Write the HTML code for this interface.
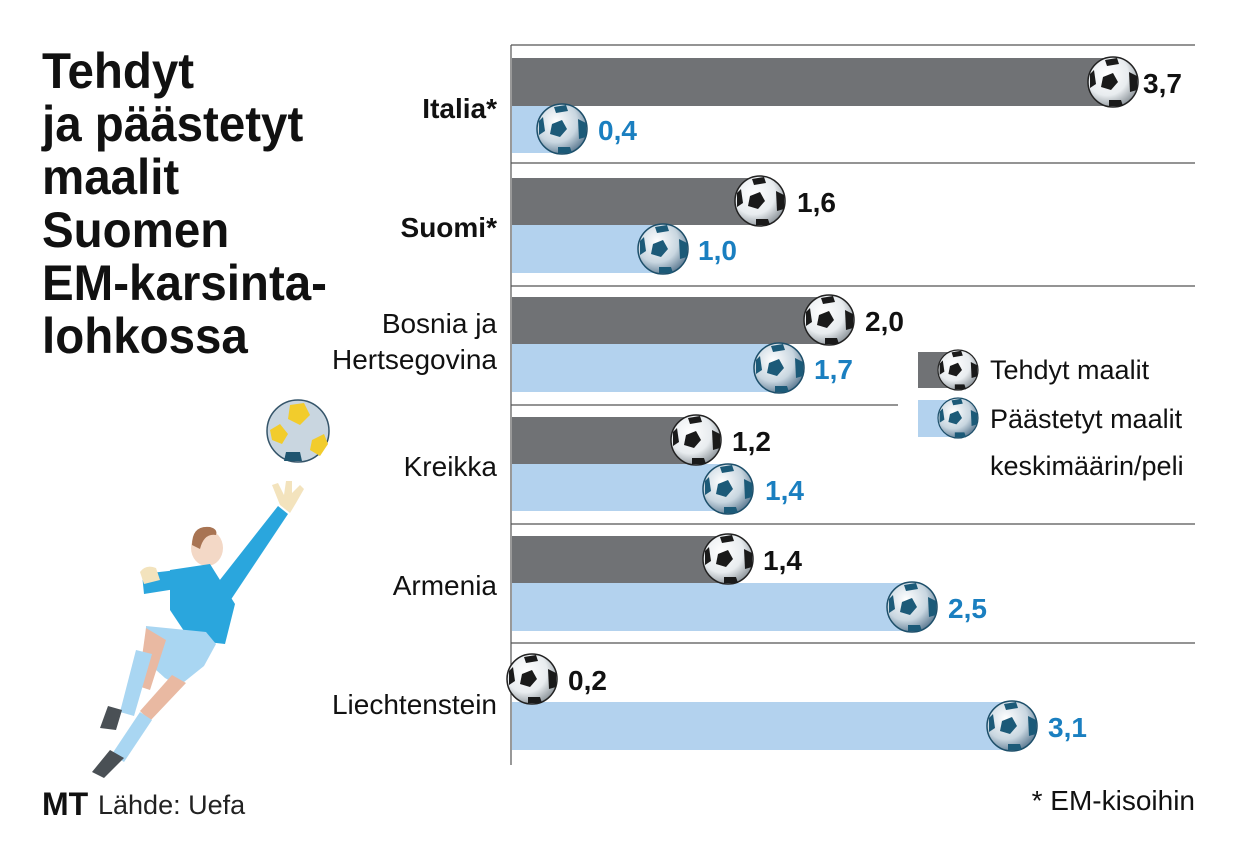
<!DOCTYPE html>
<html><head><meta charset="utf-8"><style>
html,body{margin:0;padding:0;background:#fff}
svg{display:block}
text{font-family:"Liberation Sans",sans-serif}
</style></head><body>
<svg width="1240" height="854" viewBox="0 0 1240 854" xmlns="http://www.w3.org/2000/svg">
<defs>
<radialGradient id="bw" cx="0.38" cy="0.35" r="0.7">
<stop offset="0" stop-color="#ffffff"/><stop offset="0.6" stop-color="#e8ecef"/><stop offset="1" stop-color="#8a9298"/></radialGradient>
<radialGradient id="yb" cx="0.38" cy="0.35" r="0.7">
<stop offset="0" stop-color="#ffffff"/><stop offset="0.6" stop-color="#c8d6e0"/><stop offset="1" stop-color="#5a7890"/></radialGradient>
<g id="ballD">
<circle r="25" fill="url(#bw)" stroke="#222" stroke-width="1.5"/>
<polygon points="-6,-5 4,-9 9,0 2,8 -8,5" fill="#1a1a1a" transform="translate(-4,0)"/>
<path d="M16,-10 L24,-6 L24,8 L17,10 Z" fill="#1a1a1a"/>
<path d="M-8,-22 L4,-24 L6,-18 L-6,-16 Z" fill="#1a1a1a"/>
<path d="M-4,18 L8,18 L10,24 L-4,24 Z" fill="#1a1a1a"/>
<path d="M-23,-8 L-19,-12 L-17,2 L-23,6 Z" fill="#1a1a1a"/>
</g>
<g id="ballL">
<circle r="25" fill="url(#yb)" stroke="#1d4f6a" stroke-width="1.5"/>
<polygon points="-6,-5 4,-9 9,0 2,8 -8,5" fill="#1c5a78" transform="translate(-4,0)"/>
<path d="M16,-10 L24,-6 L24,8 L17,10 Z" fill="#1c5a78"/>
<path d="M-8,-22 L4,-24 L6,-18 L-6,-16 Z" fill="#1c5a78"/>
<path d="M-4,18 L8,18 L10,24 L-4,24 Z" fill="#1c5a78"/>
<path d="M-23,-8 L-19,-12 L-17,2 L-23,6 Z" fill="#1c5a78"/>
</g>
</defs>

<!-- Title -->
<g font-weight="bold" font-size="50" fill="#111" transform="translate(42,0) scale(0.95,1)">
<text x="0" y="88">Tehdyt</text>
<text x="0" y="141">ja päästetyt</text>
<text x="0" y="194">maalit</text>
<text x="0" y="247">Suomen</text>
<text x="0" y="300">EM-karsinta-</text>
<text x="0" y="353">lohkossa</text>
</g>

<!-- grid lines -->
<g stroke="#555" stroke-width="1.2">
<line x1="511" y1="45" x2="1195" y2="45"/>
<line x1="511" y1="163" x2="1195" y2="163"/>
<line x1="511" y1="286" x2="1195" y2="286"/>
<line x1="511" y1="405" x2="898" y2="405"/>
<line x1="511" y1="524" x2="1195" y2="524"/>
<line x1="511" y1="643" x2="1195" y2="643"/>
<line x1="511" y1="45" x2="511" y2="765"/>
</g>

<!-- bars -->
<g fill="#707275">
<rect x="512" y="58" width="601" height="48"/>
<rect x="512" y="178" width="248" height="47"/>
<rect x="512" y="297" width="317" height="47"/>
<rect x="512" y="417" width="184" height="47"/>
<rect x="512" y="536" width="216" height="47"/>
</g>
<g fill="#b3d2ee">
<rect x="512" y="106" width="50" height="47"/>
<rect x="512" y="225" width="151" height="48"/>
<rect x="512" y="344" width="267" height="48"/>
<rect x="512" y="464" width="216" height="47"/>
<rect x="512" y="583" width="400" height="48"/>
<rect x="512" y="702" width="500" height="48"/>
</g>

<!-- balls -->
<use href="#ballD" x="1113" y="82"/>
<use href="#ballL" x="562" y="129"/>
<use href="#ballD" x="760" y="201"/>
<use href="#ballL" x="663" y="249"/>
<use href="#ballD" x="829" y="320"/>
<use href="#ballL" x="779" y="368"/>
<use href="#ballD" x="696" y="440"/>
<use href="#ballL" x="728" y="489"/>
<use href="#ballD" x="728" y="559"/>
<use href="#ballL" x="912" y="607"/>
<use href="#ballD" x="532" y="679"/>
<use href="#ballL" x="1012" y="726"/>

<!-- values -->
<g font-weight="bold" font-size="28">
<g fill="#111">
<text x="1143" y="93">3,7</text>
<text x="797" y="212">1,6</text>
<text x="865" y="331">2,0</text>
<text x="732" y="451">1,2</text>
<text x="763" y="570">1,4</text>
<text x="568" y="690">0,2</text>
</g>
<g fill="#1a7fc0">
<text x="598" y="140">0,4</text>
<text x="698" y="260">1,0</text>
<text x="814" y="379">1,7</text>
<text x="765" y="500">1,4</text>
<text x="948" y="618">2,5</text>
<text x="1048" y="737">3,1</text>
</g>
</g>

<!-- category labels -->
<g font-size="28" fill="#111" text-anchor="end">
<text x="497" y="118" font-weight="bold">Italia*</text>
<text x="497" y="237" font-weight="bold">Suomi*</text>
<text x="497" y="333">Bosnia ja</text>
<text x="497" y="369">Hertsegovina</text>
<text x="497" y="476">Kreikka</text>
<text x="497" y="595">Armenia</text>
<text x="497" y="714">Liechtenstein</text>
</g>

<!-- legend -->
<rect x="918" y="352" width="42" height="36" fill="#707275"/>
<rect x="918" y="400" width="42" height="37" fill="#b3d2ee"/>
<use href="#ballD" transform="translate(958,370) scale(0.8)"/>
<use href="#ballL" transform="translate(958,418) scale(0.8)"/>
<g font-size="27" fill="#111">
<text x="990" y="379">Tehdyt maalit</text>
<text x="990" y="428">Päästetyt maalit</text>
<text x="990" y="475">keskimäärin/peli</text>
</g>

<text x="1195" y="810" font-size="28" fill="#111" text-anchor="end">* EM-kisoihin</text>

<!-- source -->
<text x="42" y="815" font-family="Liberation Serif" font-weight="bold" font-size="32" fill="#111">MT</text>
<text x="98" y="814" font-size="27" fill="#222">Lähde: Uefa</text>

<!-- goalkeeper -->
<g>
<circle cx="298" cy="431" r="31" fill="#c9d6e0" stroke="#35556a" stroke-width="1.5"/>
<path d="M290,405 l14,-2 l6,12 l-10,10 l-12,-6 Z" fill="#f2cc2c"/>
<path d="M270,430 l10,-6 l8,10 l-6,10 l-10,-4 Z" fill="#f2cc2c"/>
<path d="M312,440 l12,-6 l4,10 l-8,12 l-10,-6 Z" fill="#f2cc2c"/>
<path d="M286,452 l14,0 l2,9 l-18,0 Z" fill="#1f5570"/>
<path d="M280,505 l-8,-20 l6,-2 l6,12 l2,-14 l6,0 l0,12 l8,-8 l4,4 l-8,14 l-6,10 Z" fill="#f3e3bd"/>
<path d="M278,506 l10,8 l-60,90 l-16,-14 Z" fill="#2aa6dd"/>
<ellipse cx="207" cy="548" rx="16" ry="18" fill="#f3d8c6"/>
<path d="M192,545 q0,-20 18,-18 q8,2 6,8 q-12,-2 -16,14 Z" fill="#a87453"/>
<path d="M170,570 l40,-6 l25,40 l-10,40 l-35,-4 l-20,-30 Z" fill="#2aa6dd"/>
<path d="M142,574 l35,-4 l5,18 l-38,6 Z" fill="#2aa6dd"/>
<path d="M140,572 q6,-8 16,-4 l4,12 l-16,4 Z" fill="#f3e3bd"/>
<path d="M146,626 l60,6 l10,12 l-12,22 l-25,20 l-14,-8 l-20,-18 Z" fill="#a9d6f2"/>
<path d="M146,628 l20,12 l-16,50 l-12,-4 Z" fill="#e9b9a2"/>
<path d="M136,650 l16,4 l-18,62 l-14,-4 Z" fill="#a9d6f2"/>
<path d="M172,675 l14,8 l-36,38 l-10,-10 Z" fill="#e9b9a2"/>
<path d="M140,712 l12,8 l-28,42 l-12,-8 Z" fill="#a9d6f2"/>
<path d="M108,706 l14,4 l-6,20 l-16,-2 Z" fill="#4a5055"/>
<path d="M110,750 l14,8 l-20,20 l-12,-6 Z" fill="#4a5055"/>
</g>
</svg>
</body></html>
